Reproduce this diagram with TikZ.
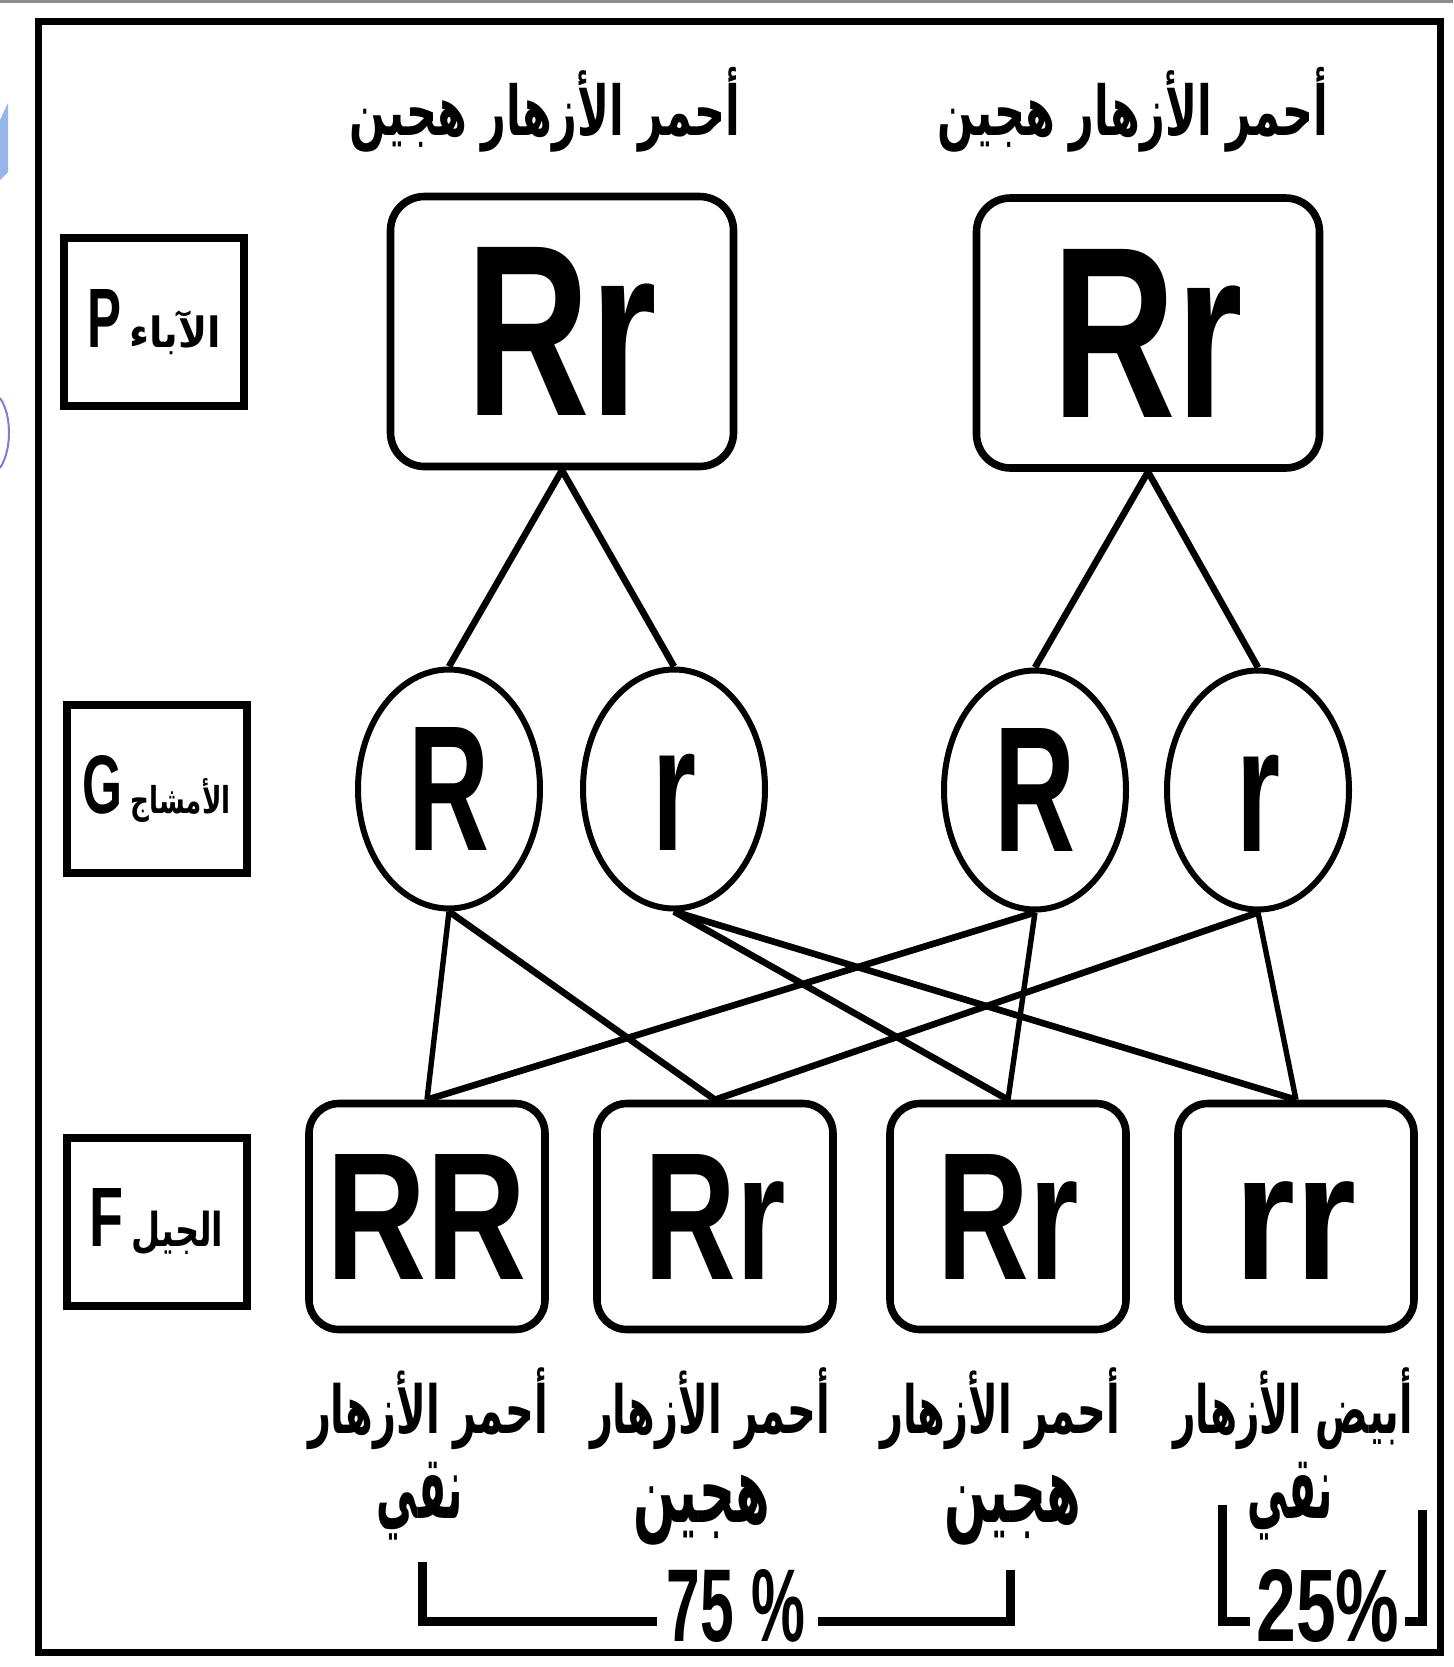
\documentclass[tikz,border=0pt]{standalone}
\usepackage{fontspec}
\usepackage{graphicx}
\setmainfont{Liberation Sans}
\newfontfamily\arabicfont[Script=Arabic]{DejaVu Sans}
\TeXXeTstate=1
\usetikzlibrary{shapes.geometric}
\definecolor{edgeblue}{RGB}{150,182,235}
\definecolor{edgepurple}{RGB}{140,120,210}

% resized bold Latin text: width, height, text
\newcommand{\glz}[3]{\resizebox{#1}{#2}{\bfseries #3}}
% resized Arabic text: width, total height, text
\newcommand{\arz}[3]{\resizebox*{#1}{#2}{\arabicfont\bfseries #3}}

\tikzset{
  framebox/.style={line width=3.5pt},
  pbox/.style={draw, line width=3.8pt, rounded corners=17pt, minimum width=171.5pt, minimum height=135pt, inner sep=0pt},
  fbox/.style={draw, line width=3.8pt, rounded corners=15pt, minimum width=118pt, minimum height=113pt, inner sep=0pt},
  gam/.style={draw, ellipse, line width=3pt, minimum width=91pt, minimum height=119.5pt, inner sep=0pt},
  lbox/.style={draw, line width=4pt, minimum width=90pt, minimum height=84pt, inner sep=0pt},
  conn/.style={line width=3.3pt},
  vconn/.style={line width=2.7pt},
  brk/.style={line width=4.5pt},
  txt/.style={inner sep=0pt},
}

\begin{document}
\begin{tikzpicture}[x=0.5pt,y=-0.5pt]
\useasboundingbox (0,0) rectangle (1453,1667);
\fill[white] (0,0) rectangle (1453,1667);

% screenshot leftovers at the edges
\draw[black!45, line width=1.5pt] (0,1.5) -- (1453,1.5);
\fill[edgeblue] (0,120) -- (8,103) -- (8,172) -- (0,180) -- cycle;
\draw[edgepurple, line width=1pt] (0,398) .. controls (12,415) and (12,450) .. (0,468);

% outer frame
\draw[framebox] (38,21) rectangle (1440,1652);

% row labels
\node[lbox] (lp) at (154,322) {\glz{17pt}{29pt}{P}\hspace{4pt}\arz{46pt}{22pt}{\beginR الآباء\endR}};
\node[lbox] (lg) at (156.5,789) {\glz{20pt}{29pt}{G}\hspace{4pt}\arz{50pt}{22pt}{\beginR الأمشاج\endR}};
\node[lbox] (lf) at (156.5,1222) {\glz{17pt}{29pt}{F}\hspace{4pt}\arz{46pt}{22pt}{\beginR الجيل\endR}};

% parents
\node[txt] (t1) at (545,110) {\arz{195pt}{42.5pt}{\beginR أحمر الأزهار هجين\endR}};
\node[txt] (t2) at (1133,110) {\arz{195pt}{42.5pt}{\beginR أحمر الأزهار هجين\endR}};
\node[pbox] (p1) at (562,331.5) {\glz{95pt}{84pt}{Rr}};
\node[pbox] (p2) at (1148,333) {\glz{95pt}{84pt}{Rr}};

% gametes
\node[gam] (g1) at (449,789) {\glz{40.5pt}{61.5pt}{R}};
\node[gam] (g2) at (674,789) {\glz{22pt}{61.5pt}{r\vphantom{R}}};
\node[gam] (g3) at (1035,790) {\glz{40.5pt}{61.5pt}{R}};
\node[gam] (g4) at (1258,790) {\glz{22pt}{61.5pt}{r\vphantom{R}}};

% offspring
\node[fbox] (f1) at (427,1216.5) {\glz{100pt}{62.5pt}{RR}};
\node[fbox] (f2) at (715,1216.5) {\glz{70.5pt}{62.5pt}{Rr}};
\node[fbox] (f3) at (1008,1216.5) {\glz{70.5pt}{62.5pt}{Rr}};
\node[fbox] (f4) at (1296,1216.5) {\glz{61pt}{62.5pt}{rr\vphantom{R}}};

% connectors P -> G
\draw[conn] (p1.south) -- (g1.north);
\draw[conn] (p1.south) -- (g2.north);
\draw[conn] (p2.south) -- (g3.north);
\draw[conn] (p2.south) -- (g4.north);

% connectors G -> F
\draw[vconn] (g1.south) -- (f1.north);
\draw[conn] (g1.south) -- (f2.north);
\draw[conn] (g2.south) -- (f3.north);
\draw[conn] (g2.south) -- (f4.north);
\draw[conn] (g3.south) -- (f1.north);
\draw[vconn] (g3.south) -- (f3.north);
\draw[conn] (g4.south) -- (f2.north);
\draw[vconn] (g4.south) -- (f4.north);

% phenotype labels
\node[txt] (a1) at (428,1409) {\arz{120pt}{41pt}{\beginR أحمر الأزهار\endR}};
\node[txt] (a2) at (710,1409) {\arz{120pt}{41pt}{\beginR أحمر الأزهار\endR}};
\node[txt] (a3) at (1000,1409) {\arz{120pt}{41pt}{\beginR أحمر الأزهار\endR}};
\node[txt] (a4) at (1293,1409) {\arz{120pt}{41pt}{\beginR أبيض الأزهار\endR}};
\node[txt] (b1) at (420,1501) {\arz{43pt}{39pt}{\beginR نقي\endR}};
\node[txt] (b2) at (702,1510) {\arz{68pt}{35pt}{\beginR هجين\endR}};
\node[txt] (b3) at (1013,1510) {\arz{68pt}{35pt}{\beginR هجين\endR}};
\node[txt] (b4) at (1290,1501) {\arz{43pt}{39pt}{\beginR نقي\endR}};

% ratios
\node[txt] (r75) at (736,1606) {\glz{69pt}{36pt}{75 \%}};
\node[txt] (r25) at (1328,1606) {\glz{71.5pt}{36pt}{25\%}};

\coordinate (k1) at (422,1562);
\coordinate (k2) at (422,1621);
\coordinate (k3) at (657,1621);
\coordinate (k4) at (818,1621);
\coordinate (k5) at (1010,1621);
\coordinate (k6) at (1010,1570);
\draw[brk] (k1) -- (k2) -- (k3);
\draw[brk] (k4) -- (k5) -- (k6);

\coordinate (m1) at (1222,1505);
\coordinate (m2) at (1222,1621);
\coordinate (m3) at (1250,1621);
\coordinate (m4) at (1405,1621);
\coordinate (m5) at (1422,1621);
\coordinate (m6) at (1422,1510);
\draw[brk] (m1) -- (m2) -- (m3);
\draw[brk] (m4) -- (m5) -- (m6);
\end{tikzpicture}
\end{document}
